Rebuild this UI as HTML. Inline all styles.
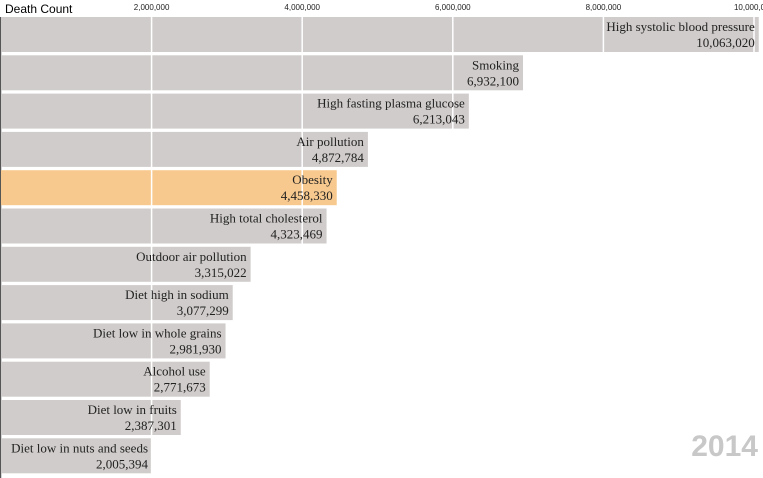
<!DOCTYPE html>
<html><head><meta charset="utf-8"><style>
body{margin:0;background:#fff;width:763px;height:478px;overflow:hidden}
svg{display:block}
.lab{font-family:"Liberation Serif",serif;font-size:13px;fill:#222}
.tick{font-family:"Liberation Sans",sans-serif;font-size:8px;fill:#222}
</style></head><body>
<svg id="chart" width="763" height="478" xmlns="http://www.w3.org/2000/svg">
<text x="5" y="13" font-family="Liberation Sans, sans-serif" font-size="12" fill="#000">Death Count</text>
<line x1="0.5" y1="17" x2="0.5" y2="478" stroke="#555" stroke-width="1.5"/>
<g id="bars"></g><g id="grid"></g><g id="labels"></g><g id="ticks"></g>
<text x="758" y="456" text-anchor="end" font-family="Liberation Sans, sans-serif" font-weight="bold" font-size="30" fill="#c8c8c8">2014</text>
</svg>
<script>
const categories=["High systolic blood pressure","Smoking","High fasting plasma glucose","Air pollution","Obesity","High total cholesterol","Outdoor air pollution","Diet high in sodium","Diet low in whole grains","Alcohol use","Diet low in fruits","Diet low in nuts and seeds"];
const values=[10063020,6932100,6213043,4872784,4458330,4323469,3315022,3077299,2981930,2771673,2387301,2005394];
const highlight="Obesity";
const tickValues=[2000000,4000000,6000000,8000000,10000000];
const NS="http://www.w3.org/2000/svg";
const x=v=>1+v*75.3/1e6;
const y=i=>17+i*38.3;
const bh=35;
function mk(t,a,p){const e=document.createElementNS(NS,t);for(const k in a)e.setAttribute(k,a[k]);p.appendChild(e);return e;}
const fmt=v=>v.toLocaleString("en-US");
const gB=document.getElementById("bars"),gG=document.getElementById("grid"),gL=document.getElementById("labels"),gT=document.getElementById("ticks");
categories.forEach((c,i)=>{
  const r=mk("rect",{x:1,y:y(i),width:x(values[i])-1,height:bh,fill:c===highlight?"#f8c98e":"#d0cccb"},gB);
  
  
  const t1=mk("text",{x:x(values[i])-4,y:y(i)+14,"text-anchor":"end",class:"lab"},gL);t1.textContent=c;
  
  
  const t2=mk("text",{x:x(values[i])-4,y:y(i)+30,"text-anchor":"end",class:"lab"},gL);t2.textContent=fmt(values[i]);
  
  
});
tickValues.forEach(v=>{
  const l=mk("line",{x1:x(v),x2:x(v),y1:17,y2:478,stroke:"#fff","stroke-width":1.5},gG);
  
  
  const t=mk("text",{x:x(v),y:10,"text-anchor":"middle",class:"tick"},gT);t.textContent=fmt(v);
  
  
});
</script>
</body></html>
